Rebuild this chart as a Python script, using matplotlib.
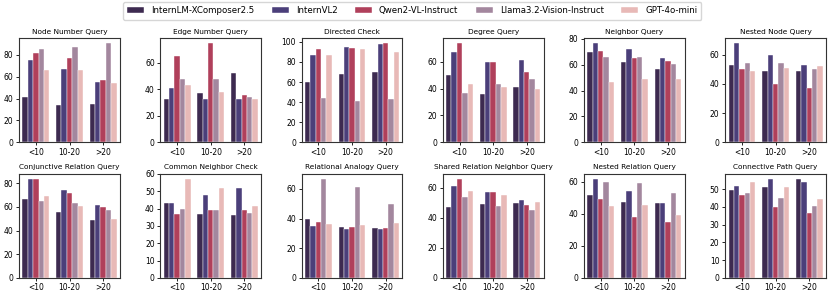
import numpy as np
import matplotlib.pyplot as plt
from matplotlib.ticker import MultipleLocator

models = ['InternLM-XComposer2.5', 'InternVL2', 'Qwen2-VL-Instruct',
          'Llama3.2-Vision-Instruct', 'GPT-4o-mini']
colors = ['#3d2a50', '#4b3f7a', '#b0405b', '#a3879e', '#e8b9b7']
groups = ['<10', '10-20', '>20']

titles = ['Node Number Query', 'Edge Number Query', 'Directed Check', 'Degree Query',
          'Neighbor Query', 'Nested Node Query',
          'Conjunctive Relation Query', 'Common Neighbor Check', 'Relational Analogy Query',
          'Shared Relation Neighbor Query', 'Nested Relation Query', 'Connective Path Query']

# values[task][group][model]
node_number = [[41, 75, 82, 85, 66], [34, 67, 77, 87, 66], [35, 55, 57, 91, 54]]
edge_number = [[33, 41, 65, 48, 43], [37, 33, 75, 48, 38], [52, 33, 36, 34, 33]]
directed = [[60, 87, 93, 44, 87], [68, 95, 94, 41, 93], [70, 98, 99, 43, 90]]
degree = [[50, 67, 74, 37, 43], [36, 60, 60, 43, 41], [41, 61, 52, 47, 40]]
neighbor = [[70, 77, 71, 66, 47], [62, 72, 65, 66, 49], [57, 65, 63, 61, 49]]
nested_node = [[53, 68, 50, 54, 49], [49, 60, 40, 54, 51], [49, 53, 37, 50, 52]]
conjunctive = [[67, 84, 84, 65, 69], [56, 74, 72, 63, 61], [49, 62, 60, 57, 50]]
common_nb = [[43, 43, 37, 39.5, 57.3], [37, 48, 39, 39, 52], [36, 52, 39, 37.5, 41.5]]
analogy = [[39.5, 35, 38, 67, 36.5], [34.5, 33, 34.5, 61, 36], [33.5, 33, 34, 50, 37]]
shared_nb = [[47, 61, 66, 54, 58], [49, 57, 57, 48, 55], [50, 52, 48.5, 45, 50.5]]
nested_rel = [[52, 62, 49, 60, 45], [47.5, 54, 38, 59.5, 45.5], [46.5, 46.5, 35, 53, 39]]
connective = [[49.5, 52, 46.5, 48, 54], [51.5, 56, 40, 45, 51], [56, 54, 36.5, 40.5, 44.5]]

data = [node_number, edge_number, directed, degree, neighbor, nested_node,
        conjunctive, common_nb, analogy, shared_nb, nested_rel, connective]

plt.rcParams['font.size'] = 5.5

fig, axes = plt.subplots(2, 6, figsize=(8.31, 2.96), dpi=100)
fig.subplots_adjust(left=0.023, right=0.994, top=0.872, bottom=0.061,
                    wspace=0.4, hspace=0.3)

x = np.arange(len(groups))
w = 0.8 / len(models)
for ax, title, vals in zip(axes.flat, titles, data):
    vals = np.array(vals)
    for j, m in enumerate(models):
        ax.bar(x - 0.4 + w * (j + 0.5), vals[:, j], w, color=colors[j],
               edgecolor='white', linewidth=0.3, label=m)
    ax.set_title(title, fontsize=5.3, pad=3)
    ax.set_xticks(x)
    ax.set_xticklabels(groups)
    ax.set_xlim(-0.5, 2.5)
    ax.tick_params(labelsize=5.5, length=2.5, pad=1.5, width=0.6)
    for s in ax.spines.values():
        s.set_linewidth(0.8)
        s.set_color('#333333')

# common neighbor check uses steps of 10
axes[1, 1].yaxis.set_major_locator(MultipleLocator(10))

handles, labels = axes[0, 0].get_legend_handles_labels()
fig.legend(handles, labels, loc='center', bbox_to_anchor=(0.496, 0.963), ncol=5,
           fontsize=6.2, frameon=True, handlelength=2.0, columnspacing=2.0,
           borderpad=0.5, edgecolor='#cccccc')

plt.savefig('out.png', dpi=100)
